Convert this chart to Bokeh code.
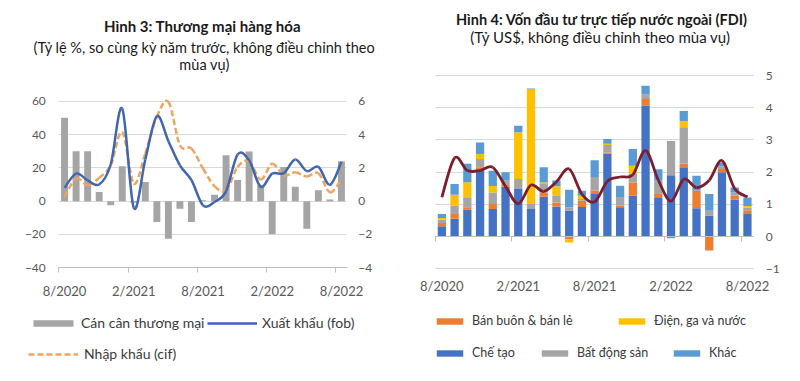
from bokeh.plotting import figure
from bokeh.models import (ColumnDataSource, Range1d, LinearAxis, FixedTicker,
                          Label, Legend, LegendItem)
from bokeh.embed import file_html
from bokeh.resources import INLINE

# ---------------- data ----------------
months = ["8/2020", "9/2020", "10/2020", "11/2020", "12/2020", "1/2021", "2/2021",
          "3/2021", "4/2021", "5/2021", "6/2021", "7/2021", "8/2021", "9/2021",
          "10/2021", "11/2021", "12/2021", "1/2022", "2/2022", "3/2022", "4/2022",
          "5/2022", "6/2022", "7/2022", "8/2022"]
tick_months = ["8/2020", "2/2021", "8/2021", "2/2022", "8/2022"]

# Hình 3 (trade balance in bn USD on right axis, growth in % on left axis)
trade_balance = [5.0, 3.0, 3.0, 0.55, -0.25, 2.1, -0.1, 1.15, -1.25, -2.25, -0.45, -1.25,
                 0.05, 0.38, 2.75, 1.27, 2.98, 0.95, -1.97, 2.05, 0.87, -1.65, 0.65, 0.1, 2.4]
exports = [8.0, 16.5, 12.5, 10.0, 22.0, 55.5, -4.0, 25.0, 51.0, 36.0, 21.5, 12.6,
           -2.5, -0.5, 6.0, 28.0, 24.5, 8.6, 16.5, 16.8, 25.0, 18.0, 20.6, 9.8, 23.5]
imports = [2.6, 13.6, 9.6, 14.0, 21.6, 41.6, 10.6, 28.6, 50.6, 59.6, 33.6, 31.6,
           19.6, 9.0, 6.5, 20.5, 24.0, 13.0, 22.5, 15.5, 17.3, 14.8, 16.8, 5.3, 13.0]
left_ticks = [-40, -20, 0, 20, 40, 60]
bal_ticks = [-4, -2, 0, 2, 4, 6]

# Hình 4 (FDI, bn USD)
fdi_manufacturing = [0.32, 0.55, 0.83, 2.05, 0.86, 1.55, 1.48, 0.86, 1.24, 0.93, 0.81, 0.92,
                     1.32, 2.57, 0.91, 1.27, 4.07, 1.22, 1.9, 2.15, 0.88, 0.65, 2.0, 1.14, 0.7]
fdi_wholesale = [0.1, 0.15, 0.08, 0.1, 0.15, 0.05, 0.0, 0.0, 0.13, 0.13, -0.08, 0.2,
                 0.1, 0.04, 0.05, 0.41, 0.2, 0.1, 0.0, 0.12, 0.55, -0.43, 0.1, 0.13, 0.12]
fdi_realestate = [0.1, 0.26, 0.31, 0.26, 0.36, 0.15, 0.31, 0.15, 0.26, 0.2, 0.1, 0.05,
                  0.43, 0.23, 0.27, 0.26, 0.15, 0.41, 1.07, 1.12, 0.0, 0.15, 0.08, 0.1, 0.08]
fdi_utilities = [0.06, 0.34, 0.47, 0.15, 0.2, 0.0, 1.45, 3.57, 0.05, 0.3, -0.1, 0.1,
                 0.0, 0.04, 0.0, 0.26, 0.0, 0.0, 0.0, 0.2, 0.0, 0.0, 0.0, 0.0, 0.05]
fdi_other = [0.12, 0.33, 0.57, 0.36, 0.47, 0.25, 0.2, 0.02, 0.47, 0.18, 0.54, 0.15,
             0.52, 0.15, 0.35, 0.52, 0.26, 0.36, -0.05, 0.31, 0.46, 0.52, 0.12, 0.15, 0.26]
fdi_trend = [1.22, 2.44, 2.05, 2.05, 2.15, 1.56, 1.02, 1.6, 1.4, 1.7, 2.1, 1.32,
             1.08, 1.72, 1.85, 1.92, 2.67, 1.75, 1.1, 1.78, 1.52, 1.75, 2.36, 1.49, 1.23]
fdi_ticks = [-1, 0, 1, 2, 3, 4, 5]

# ---------------- layout (canvas pixels, from top-left) ----------------
W, H = 784, 365
L_X0, L_X1 = 58.3, 346.7      # left chart plot area, x edges
L_YTOP, L_YBOT = 100.7, 267.3 # y of 60 and of -40
R_X0, R_X1 = 435.0, 753.3     # right chart plot area, x edges
R_YTOP, R_YBOT = 75.0, 268.3  # y of 5 and of -1

FONT = "Lato"
AX_COL = "#595959"
GRID_COL = "#D9D9D9"
idx = list(range(len(months)))
tick_pos = [months.index(m) for m in tick_months]
bound_pos = [t - 0.5 for t in tick_pos]
tick_over = {t: m for t, m in zip(tick_pos, tick_months)}
x_lo, x_hi = -0.5, len(months) - 0.5

# ranges mapping the plot areas onto the whole canvas
sL = (x_hi - x_lo) / (L_X1 - L_X0)
xL0 = x_lo - L_X0 * sL
kL = (left_ticks[-1] - left_ticks[0]) / (L_YBOT - L_YTOP)
yL1 = left_ticks[-1] + L_YTOP * kL
sR = (x_hi - x_lo) / (R_X1 - R_X0)
xR0 = x_lo - R_X0 * sR
kR = (fdi_ticks[-1] - fdi_ticks[0]) / (R_YBOT - R_YTOP)
yR1 = fdi_ticks[-1] + R_YTOP * kR

p = figure(width=W, height=H, min_border=0, x_axis_location=None, y_axis_location=None,
           x_range=Range1d(xL0, xL0 + W * sL), y_range=Range1d(yL1 - H * kL, yL1),
           output_backend="svg", toolbar_location=None, outline_line_color=None,
           background_fill_color="white", border_fill_color="white")
p.extra_x_ranges = {"r": Range1d(xR0, xR0 + W * sR)}
p.extra_y_ranges = {"bal": Range1d((yL1 - H * kL) / 10.0, yL1 / 10.0),
                    "fdi": Range1d(yR1 - H * kR, yR1)}
p.xgrid.visible = False
p.ygrid.visible = False


def style_axis(ax, size="12px", standoff=8):
    ax.major_label_text_font = FONT
    ax.major_label_text_font_size = size
    ax.major_label_text_color = AX_COL
    ax.major_tick_line_color = None
    ax.minor_tick_line_color = None
    ax.axis_line_color = None
    ax.major_tick_out = 0
    ax.major_tick_in = 0
    ax.major_label_standoff = standoff


def smooth_source(xs, ys):
    """Bezier segments through the data points (Catmull-Rom style, like Excel smoothing)."""
    n = len(xs)
    d = dict(x0=[], y0=[], x1=[], y1=[], cx0=[], cy0=[], cx1=[], cy1=[])
    for i in range(n - 1):
        xp, yp = (xs[i - 1], ys[i - 1]) if i > 0 else (xs[i], ys[i])
        xn, yn = (xs[i + 2], ys[i + 2]) if i + 2 < n else (xs[i + 1], ys[i + 1])
        d["x0"].append(xs[i]); d["y0"].append(ys[i])
        d["x1"].append(xs[i + 1]); d["y1"].append(ys[i + 1])
        d["cx0"].append(xs[i] + (xs[i + 1] - xp) / 6.0)
        d["cy0"].append(ys[i] + (ys[i + 1] - yp) / 6.0)
        d["cx1"].append(xs[i + 1] - (xn - xs[i]) / 6.0)
        d["cy1"].append(ys[i + 1] - (yn - ys[i]) / 6.0)
    return ColumnDataSource(d)


def add_text(x_px, y_px, text, size, bold=False):
    p.add_layout(Label(x=x_px, y=H - y_px, x_units="screen", y_units="screen", text=text,
                       text_align="center", text_baseline="middle", text_font=FONT,
                       text_font_size=size, text_font_style="bold" if bold else "normal",
                       text_color="#1a1a1a"))


def add_legend_item(label, rend, x_px, yc_px, gw, gh, size, standoff=5, h=16):
    lg = Legend(items=[LegendItem(label=label, renderers=[rend])],
                location=(x_px, H - (yc_px + h / 2.0)),
                orientation="horizontal", glyph_width=gw, glyph_height=gh,
                label_height=gh, label_standoff=standoff, padding=0, margin=0,
                spacing=0, border_line_color=None, background_fill_alpha=0,
                label_text_font=FONT, label_text_font_size=size,
                label_text_color="#3a3a3a", label_text_baseline="middle")
    p.add_layout(lg, "center")


# ---------------- Hình 3 ----------------
yl = LinearAxis(fixed_location=x_lo, ticker=FixedTicker(ticks=left_ticks))
style_axis(yl, "12px", 13)
yl.major_tick_line_color = GRID_COL          # ticks drawn across the plot = gridlines
yl.major_tick_in = int(round(L_X1 - L_X0))
yl.level = "underlay"
p.add_layout(yl, "left")

yb = LinearAxis(fixed_location=x_hi, y_range_name="bal", ticker=FixedTicker(ticks=bal_ticks))
style_axis(yb, "12px", 11)
p.add_layout(yb, "right")

xl = LinearAxis(fixed_location=left_ticks[0], bounds=(x_lo, x_hi),
                ticker=FixedTicker(ticks=tick_pos, minor_ticks=bound_pos))
xl.major_label_overrides = tick_over
style_axis(xl, "13px", 10)
xl.axis_line_color = "#BFBFBF"
xl.minor_tick_line_color = "#BFBFBF"
xl.minor_tick_out = 5
xl.minor_tick_in = 0
p.add_layout(xl, "below")

src1 = ColumnDataSource(dict(x=idx, bal=trade_balance))
r_bal = p.vbar(x="x", top="bal", width=0.6, source=src1, y_range_name="bal",
               fill_color="#A5A5A5", line_color=None)
r_imp = p.bezier(x0="x0", y0="y0", x1="x1", y1="y1", cx0="cx0", cy0="cy0",
                 cx1="cx1", cy1="cy1", source=smooth_source(idx, imports),
                 line_color="#EFA45F", line_width=2.5, line_dash="6 3")
r_exp = p.bezier(x0="x0", y0="y0", x1="x1", y1="y1", cx0="cx0", cy0="cy0",
                 cx1="cx1", cy1="cy1", source=smooth_source(idx, exports),
                 line_color="#4166B0", line_width=2.5)

add_text(202, 25.5, "Hình 3: Thương mại hàng hóa", "15px", bold=True)
add_text(204, 46.5, "(Tỷ lệ %, so cùng kỳ năm trước, không điều chỉnh theo", "14.5px")
add_text(204, 63.5, "mùa vụ)", "14.5px")

add_legend_item("Cán cân thương mại", r_bal, 28, 323, 50, 8, "14px", 3)
add_legend_item("Xuất khẩu (fob)", r_exp, 207, 323, 50, 8, "14px", 5)
add_legend_item("Nhập khẩu (cif)", r_imp, 28, 354, 50, 8, "14px", 6)

# ---------------- Hình 4 ----------------
yr = LinearAxis(fixed_location=x_hi, x_range_name="r", y_range_name="fdi",
                ticker=FixedTicker(ticks=fdi_ticks))
style_axis(yr, "12px", 12)
yr.major_tick_line_color = GRID_COL          # ticks drawn across the plot = gridlines
yr.major_tick_in = int(round(R_X1 - R_X0))
yr.level = "underlay"
p.add_layout(yr, "right")

xr = LinearAxis(fixed_location=fdi_ticks[0], x_range_name="r", y_range_name="fdi",
                bounds=(x_lo, x_hi), ticker=FixedTicker(ticks=tick_pos))
xr.major_label_overrides = tick_over
style_axis(xr, "13px", 9)
p.add_layout(xr, "below")

zax = LinearAxis(fixed_location=0, x_range_name="r", y_range_name="fdi",
                 bounds=(x_lo, x_hi), ticker=FixedTicker(ticks=bound_pos))
style_axis(zax, "1px", 0)
zax.axis_line_color = "#BFBFBF"
zax.major_tick_line_color = "#BFBFBF"
zax.major_tick_out = 5
zax.major_label_text_alpha = 0
p.add_layout(zax, "below")

series = [("Chế tạo", fdi_manufacturing, "#4472C4"),
          ("Bán buôn & bán lẻ", fdi_wholesale, "#ED7D31"),
          ("Bất động sản", fdi_realestate, "#A5A5A5"),
          ("Điện, ga và nước", fdi_utilities, "#FFC000"),
          ("Khác", fdi_other, "#5B9BD5")]
pos_base = [0.0] * len(idx)
neg_base = [0.0] * len(idx)
rends = {}
for name, vals, col in series:
    bottoms, tops = [], []
    for i, v in enumerate(vals):
        if v >= 0:
            bottoms.append(pos_base[i]); tops.append(pos_base[i] + v); pos_base[i] += v
        else:
            tops.append(neg_base[i]); bottoms.append(neg_base[i] + v); neg_base[i] += v
    src = ColumnDataSource(dict(x=idx, bottom=bottoms, top=tops))
    rends[name] = p.vbar(x="x", bottom="bottom", top="top", width=0.65, source=src,
                         x_range_name="r", y_range_name="fdi",
                         fill_color=col, line_color=None)

p.bezier(x0="x0", y0="y0", x1="x1", y1="y1", cx0="cx0", cy0="cy0", cx1="cx1", cy1="cy1",
         source=smooth_source(idx, fdi_trend), x_range_name="r", y_range_name="fdi",
         line_color="#7B1E2D", line_width=2.8)

add_text(601.5, 18.5, "Hình 4: Vốn đầu tư trực tiếp nước ngoài (FDI)", "14.5px", bold=True)
add_text(600, 36, "(Tỷ US$, không điều chỉnh theo mùa vụ)", "15px")

add_legend_item("Bán buôn & bán lẻ", rends["Bán buôn & bán lẻ"], 433, 320, 33, 8, "12.5px", 6)
add_legend_item("Điện, ga và nước", rends["Điện, ga và nước"], 615, 320, 33, 8, "12.5px", 6)
add_legend_item("Chế tạo", rends["Chế tạo"], 433, 352, 33, 8, "12.5px", 6)
add_legend_item("Bất động sản", rends["Bất động sản"], 538, 352, 33, 8, "12.5px", 6)
add_legend_item("Khác", rends["Khác"], 670, 352, 33, 8, "12.5px", 6)

open("out.html", "w").write(file_html(p, INLINE))
